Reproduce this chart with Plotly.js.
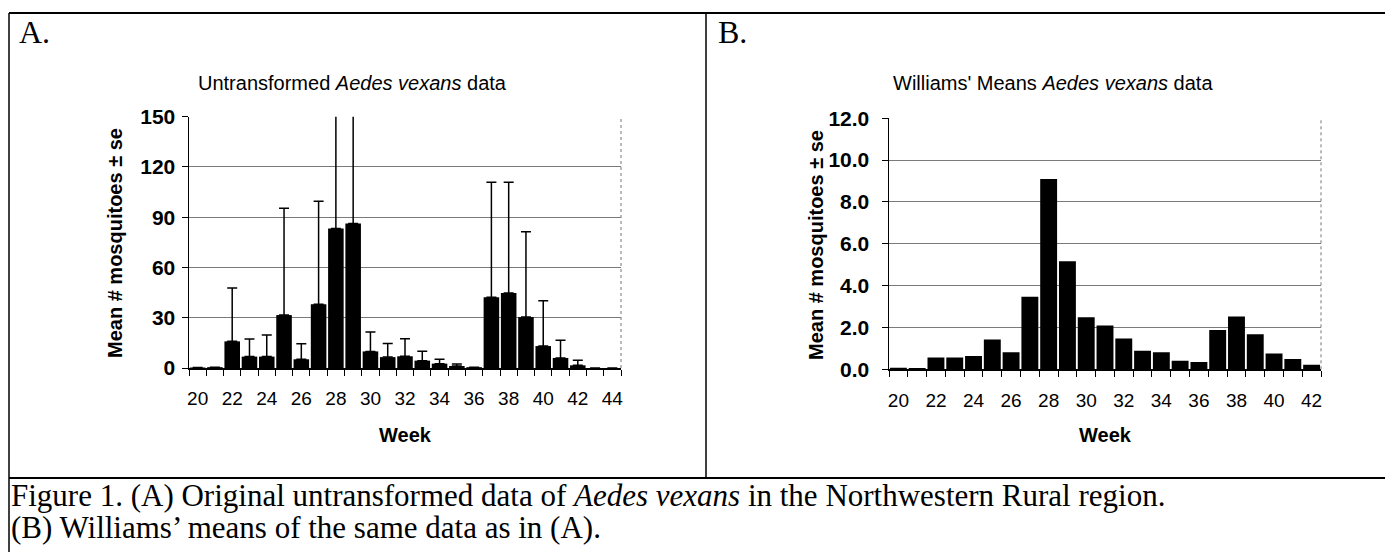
<!DOCTYPE html>
<html>
<head>
<meta charset="utf-8">
<script src="https://cdn.plot.ly/plotly-3.0.1.min.js"></script>
<style>
html,body{margin:0;padding:0;background:#fff;}
#chart{width:1385px;height:552px;}
</style>
</head>
<body>
<div id="chart"></div>
<script>
// ---- Data ----
const weeksA = [20,21,22,23,24,25,26,27,28,29,30,31,32,33,34,35,36,37,38,39,40,41,42,43,44];
const meanA  = [0.3,0.5,15.9,6.8,6.8,31.6,5.2,38,83.2,86.2,9.9,6.5,7,4.4,2.6,1.2,0.5,42.3,44.7,30.4,13.1,6,1.6,0,0];
const seA    = [null,null,31.8,10.5,12.9,63.7,9.3,61.5,95,95,11.6,8.1,10.5,5.6,2.6,1.2,null,68.6,66.2,50.9,27,10.5,3,null,null];

const weeksB = [20,21,22,23,24,25,26,27,28,29,30,31,32,33,34,35,36,37,38,39,40,41,42];
const meanB  = [0.08,0.06,0.56,0.56,0.64,1.43,0.81,3.47,9.1,5.16,2.49,2.09,1.47,0.89,0.81,0.41,0.35,1.88,2.53,1.67,0.75,0.49,0.22];

const tickWeeksA = [20,22,24,26,28,30,32,34,36,38,40,42,44];
const tickWeeksB = [20,22,24,26,28,30,32,34,36,38,40,42];

const titleA = "Untransformed <i>Aedes vexans</i> data";
const titleB = "Williams' Means <i>Aedes vexans</i> data";
const yTitle = "Mean # mosquitoes ± se";
const xTitle = "Week";
const caption1 = "Figure 1. (A) Original untransformed data of <i>Aedes vexans</i> in the Northwestern Rural region.";
const caption2 = "(B) Williams’ means of the same data as in (A).";

// ---- Layout helpers ----
const W = 1385, H = 552;
const px = x => x / W;
const py = y => 1 - y / H;
const SANS = "Liberation Sans, Arial, sans-serif";
const SERIF = "Liberation Serif, Times New Roman, serif";

const traces = [
  {
    type: 'bar', x: weeksA, y: meanA, xaxis: 'x', yaxis: 'y',
    marker: {color: '#000', line: {width: 0}},
    error_y: {type: 'data', symmetric: false, array: seA,
              arrayminus: seA.map(v => v === null ? null : 0),
              color: '#000', thickness: 1.5, width: 5},
    hoverinfo: 'x+y', showlegend: false
  },
  {
    type: 'bar', x: weeksB, y: meanB, xaxis: 'x2', yaxis: 'y2',
    marker: {color: '#000', line: {width: 0}},
    hoverinfo: 'x+y', showlegend: false
  }
];

function xAxis(domain, range, ticks) {
  return {
    domain: domain, range: range, type: 'linear',
    tickmode: 'array', tickvals: ticks, ticktext: ticks.map(String),
    ticks: '', showgrid: false, zeroline: false,
    showline: true, linecolor: '#000', linewidth: 1.5,
    tickfont: {family: SANS, size: 19, color: '#000'},
    ticklabelstandoff: 13,
    minor: {tick0: range[0], dtick: 1, ticks: 'outside', ticklen: 6,
            tickcolor: '#000', tickwidth: 1, showgrid: false},
    fixedrange: true
  };
}
function yAxis(domain, range, dtick, fmt, anchor, standoff) {
  return {
    domain: domain, range: range, dtick: dtick, tick0: 0, tickformat: fmt,
    anchor: anchor,
    ticks: 'outside', ticklen: 6, tickcolor: '#000', tickwidth: 1,
    showgrid: true, gridcolor: '#7a7a7a', gridwidth: 1,
    zeroline: false, showline: true, linecolor: '#000', linewidth: 1.5,
    tickfont: {family: SANS, size: 21, color: '#000', weight: 'bold'},
    ticklabelstandoff: standoff,
    fixedrange: true
  };
}

const xA = [189/W, 621/W], yA = [1-368/H, 1-116.7/H];
const xB = [889/W, 1321/W], yB = [1-369.3/H, 1-118.3/H];

const layout = {
  width: W, height: H,
  margin: {l: 0, r: 0, t: 0, b: 0},
  paper_bgcolor: '#fff', plot_bgcolor: '#fff',
  bargap: 0.1,
  showlegend: false,
  xaxis: Object.assign(xAxis(xA, [19.5, 44.5], tickWeeksA), {anchor: 'y'}),
  yaxis: yAxis(yA, [0, 150], 30, 'd', 'x', 2),
  xaxis2: Object.assign(xAxis(xB, [19.5, 42.5], tickWeeksB), {anchor: 'y2'}),
  yaxis2: yAxis(yB, [0, 12], 2, '.1f', 'x2', 8),
  shapes: [
    // frame of the figure
    {type:'line', xref:'paper', yref:'paper', x0:px(9), x1:1, y0:py(13), y1:py(13), line:{color:'#000', width:2}},
    {type:'line', xref:'paper', yref:'paper', x0:px(9), x1:px(9), y0:py(13), y1:0, line:{color:'#000', width:1.5}},
    {type:'line', xref:'paper', yref:'paper', x0:px(706), x1:px(706), y0:py(13), y1:py(478), line:{color:'#000', width:1.5}},
    {type:'line', xref:'paper', yref:'paper', x0:px(9), x1:1, y0:py(478), y1:py(478), line:{color:'#000', width:2}},
    // right borders of plot areas (dotted gray)
    {type:'line', xref:'x domain', yref:'y domain', x0:1, x1:1, y0:0, y1:1, line:{color:'#777', width:1, dash:'dot'}},
    {type:'line', xref:'x2 domain', yref:'y2 domain', x0:1, x1:1, y0:0, y1:1, line:{color:'#777', width:1, dash:'dot'}}
  ],
  annotations: [
    {text: 'A.', xref:'paper', yref:'paper', x:px(17), y:py(32), xanchor:'left', yanchor:'middle', showarrow:false,
     font:{family:SERIF, size:32, color:'#000'}},
    {text: 'B.', xref:'paper', yref:'paper', x:px(716), y:py(32), xanchor:'left', yanchor:'middle', showarrow:false,
     font:{family:SERIF, size:32, color:'#000'}},
    {text: titleA, xref:'paper', yref:'paper', x:px(352), y:py(83), xanchor:'center', yanchor:'middle', showarrow:false,
     font:{family:SANS, size:20, color:'#000'}},
    {text: titleB, xref:'paper', yref:'paper', x:px(1053), y:py(83), xanchor:'center', yanchor:'middle', showarrow:false,
     font:{family:SANS, size:20, color:'#000'}},
    {text: yTitle, xref:'paper', yref:'paper', x:px(115), y:py(243), xanchor:'center', yanchor:'middle', textangle:-90, showarrow:false,
     font:{family:SANS, size:20, color:'#000', weight:'bold'}},
    {text: yTitle, xref:'paper', yref:'paper', x:px(816), y:py(245), xanchor:'center', yanchor:'middle', textangle:-90, showarrow:false,
     font:{family:SANS, size:20, color:'#000', weight:'bold'}},
    {text: xTitle, xref:'paper', yref:'paper', x:px(405), y:py(435), xanchor:'center', yanchor:'middle', showarrow:false,
     font:{family:SANS, size:20, color:'#000', weight:'bold'}},
    {text: xTitle, xref:'paper', yref:'paper', x:px(1105), y:py(435), xanchor:'center', yanchor:'middle', showarrow:false,
     font:{family:SANS, size:20, color:'#000', weight:'bold'}},
    {text: caption1, xref:'paper', yref:'paper', x:px(9), y:py(495), xanchor:'left', yanchor:'middle', showarrow:false,
     font:{family:SERIF, size:31, color:'#000'}},
    {text: caption2, xref:'paper', yref:'paper', x:px(9), y:py(527), xanchor:'left', yanchor:'middle', showarrow:false,
     font:{family:SERIF, size:31, color:'#000'}}
  ]
};

Plotly.newPlot('chart', traces, layout, {displayModeBar: false, staticPlot: true});
</script>
</body>
</html>
